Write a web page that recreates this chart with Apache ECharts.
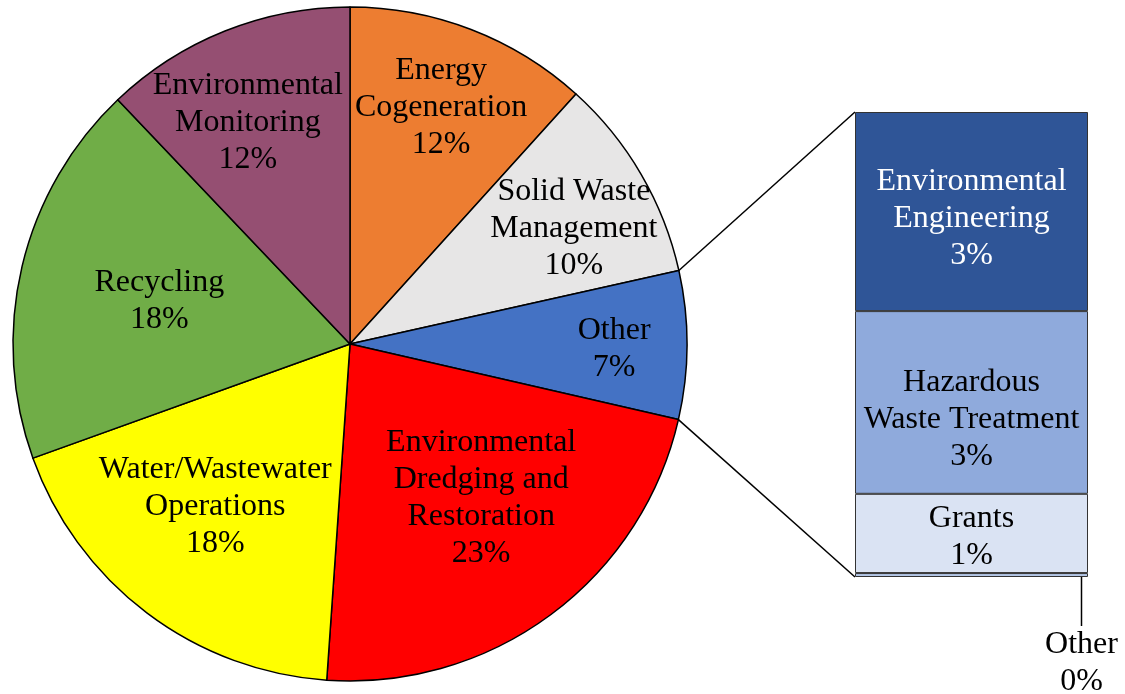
<!DOCTYPE html>
<html lang="en">
<head>
<meta charset="UTF-8">
<title>Bar of pie</title>
<style>
    body { margin: 0; background: #fff; }
    #chart { width: 1125px; height: 694px; }
</style>
</head>
<body>
<div id="chart"></div>
<script src="https://cdn.jsdelivr.net/npm/echarts@6/dist/echarts.min.js"></script>
<script>
// pie slices, clockwise from 12 o'clock (percent)
var pieNames = ['Energy\nCogeneration', 'Solid Waste\nManagement', 'Other',
    'Environmental\nDredging and\nRestoration', 'Water/Wastewater\nOperations',
    'Recycling', 'Environmental\nMonitoring'];
var pieValues = [11.7, 9.8, 7.1, 22.5, 18.4, 18.4, 12.1];
var pieColors = ['#ED7D31', '#E7E6E6', '#4472C4', '#FF0000', '#FFFF00', '#70AD47', '#954F72'];

// breakdown of "Other", top to bottom
var barNames = ['Environmental\nEngineering', 'Hazardous\nWaste Treatment', 'Grants', 'Other'];
var barValues = [3.04, 2.79, 1.21, 0.06];
var barColors = ['#2F5597', '#8FAADC', '#DAE3F3', '#B4C7E7'];

// layout
var CX = 350, CY = 344, R = 337;
var GRID = { left: 855, top: 112, width: 233, height: 465 };
var FONT = 'Liberation Serif';
// label rings: true = far from centre, false = nearer the centre
var outerLabel = [true, true, true, false, false, false, true];
// small label nudges (px) to match the excel placement
var pieLabelNudge = [[-2, 5], [0, 15], [5, 4], [9, -11], [-11, -1], [9, 4], [-6, 19]];
var barLabelNudge = [7, 17, 4, 4];
var OTHER_INDEX = 2;

var chart = echarts.init(document.getElementById('chart'));

function pct(v) { return Math.round(v) + '%'; }

var textStyle = { fontFamily: FONT, fontSize: 32, lineHeight: 37, color: '#000' };

// main pie, no labels
var pieData = pieNames.map(function (n, i) {
    return { name: n, value: pieValues[i], itemStyle: { color: pieColors[i] } };
});

// transparent copy of the pie that only carries the labels
function labelPie(outer) {
    return {
        type: 'pie',
        silent: true,
        center: [CX, CY],
        radius: outer ? [R * 0.52, R] : [R * 0.2, R],
        startAngle: 90,
        clockwise: true,
        avoidLabelOverlap: false,
        itemStyle: { color: 'rgba(0,0,0,0)', borderWidth: 0 },
        emphasis: { disabled: true },
        labelLine: { show: false },
        labelLayout: function (p) {
            var d = pieLabelNudge[p.dataIndex];
            return { dx: d[0], dy: d[1] };
        },
        data: pieNames.map(function (n, i) {
            return {
                name: n, value: pieValues[i],
                label: { show: outerLabel[i] === outer }
            };
        }),
        label: Object.assign({
            position: 'inside',
            formatter: function (p) { return p.name + '\n' + pct(p.value); }
        }, textStyle)
    };
}

var barTotal = barValues.reduce(function (a, b) { return a + b; }, 0);

var barSeries = barNames.map(function (n, i) {
    var s = {
        type: 'bar',
        name: n,
        stack: 'other',
        barWidth: '100%',
        data: [barValues[i]],
        itemStyle: { color: barColors[i], borderColor: '#333', borderWidth: 1 },
        emphasis: { disabled: true },
        label: Object.assign({}, textStyle, {
            show: true,
            position: 'inside',
            offset: [0, barLabelNudge[i]],
            color: i === 0 ? '#fff' : '#000',
            formatter: function (p) { return n + '\n' + pct(p.value); }
        })
    };
    if (i === barNames.length - 1) {
        s.label.position = 'bottom';
        s.label.offset = [0, 0];
        s.labelLayout = { dx: 110, dy: 40 + barLabelNudge[i] };
        s.labelLine = { show: true, lineStyle: { color: '#000', width: 1.5 } };
    }
    return s;
});

// connector lines from the "Other" slice edges to the bar corners
var pieTotal = pieValues.reduce(function (a, b) { return a + b; }, 0);
var before = 0;
for (var k = 0; k < OTHER_INDEX; k++) before += pieValues[k];
function edgePoint(cum) {
    var a = cum / pieTotal * Math.PI * 2;
    return [CX + R * Math.sin(a), CY - R * Math.cos(a)];
}
var pTop = edgePoint(before);
var pBot = edgePoint(before + pieValues[OTHER_INDEX]);
// value axis is inverted: 0 at the grid top, barTotal at the grid bottom
var yTop = GRID.top;
var yBot = GRID.top + GRID.height;

chart.setOption({
    animation: false,
    grid: { left: GRID.left, top: GRID.top, width: GRID.width, height: GRID.height },
    xAxis: { type: 'category', data: ['Other'], show: false },
    yAxis: { type: 'value', inverse: true, min: 0, max: barTotal, show: false },
    graphic: [
        { type: 'line', shape: { x1: pTop[0], y1: pTop[1], x2: GRID.left, y2: yTop },
          style: { stroke: '#000', lineWidth: 1.5 } },
        { type: 'line', shape: { x1: pBot[0], y1: pBot[1], x2: GRID.left, y2: yBot },
          style: { stroke: '#000', lineWidth: 1.5 } }
    ],
    series: [{
        type: 'pie',
        center: [CX, CY],
        radius: R,
        startAngle: 90,
        clockwise: true,
        label: { show: false },
        labelLine: { show: false },
        emphasis: { disabled: true },
        itemStyle: { borderColor: '#000', borderWidth: 1.5 },
        data: pieData
    }, labelPie(true), labelPie(false)].concat(barSeries)
});
</script>
</body>
</html>
